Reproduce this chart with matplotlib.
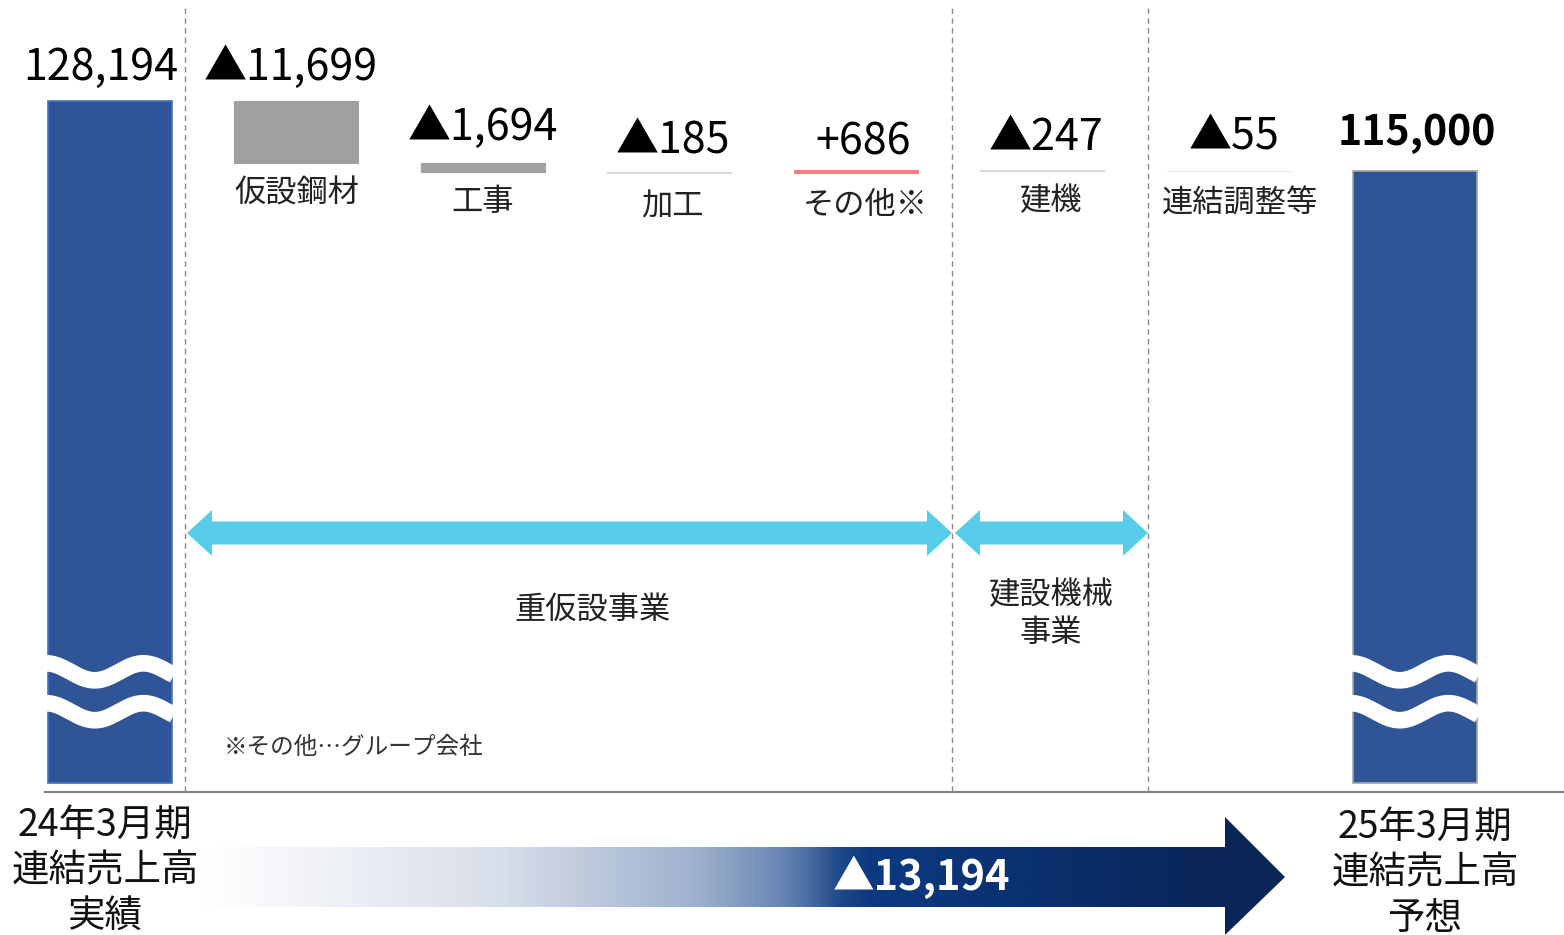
import numpy as np
import matplotlib
matplotlib.use("Agg")
import matplotlib.pyplot as plt
from matplotlib.patches import Polygon
from matplotlib.colors import LinearSegmentedColormap

plt.rcParams['font.family'] = ['Noto Sans CJK JP', 'DejaVu Sans']

# data (百万円)
categories = ['24年3月期\n連結売上高\n実績', '仮設鋼材', '工事', '加工', 'その他※', '建機', '連結調整等',
              '25年3月期\n連結売上高\n予想']
changes = [128194, -11699, -1694, -185, 686, -247, -55]
total_next = 115000
value_labels = ['128,194', '▲11,699', '▲1,694', '▲185', '+686', '▲247', '▲55', '115,000']
step_colors = ['#A0A0A0', '#A0A0A0', '#D9D9D9', '#FF7C80', '#D9D9D9', '#E6E6E6']
total_change = '▲13,194'
segments = ['重仮設事業', '建設機械\n事業']
footnote = '※その他…グループ会社'

# label nudges in pixels (layout only)
val_dx = [-9, -6, 0, 4, 7, 4, 5, 2]
val_dy = [33, 33, 35, 31, 27, 32, 33, 38]
cat_dx = [0, 0, 3, 10, 9, 11]
cat_dy = [30, 30, 33, 32, 30, 32]

W, H = 1564, 935
fig = plt.figure(figsize=(W / 100, H / 100), dpi=100)
PT = 0.72  # points per pixel at 100 dpi

# main axes: waterfall
ax = fig.add_axes([0, 0, 1, 1])
px_unit = 128194 / 682.0          # value per pixel
x_step = 186.43
ax.set_xlim(-110 / x_step, (W - 110) / x_step)
ax.set_ylim(-(H - 783) * px_unit, 783 * px_unit)
ax.axis('off')

bw = 0.665
blue = '#2F5597'
# start / end bars
ax.bar(0, changes[0], bw, bottom=0, color=blue, edgecolor='#4472C4', linewidth=1.2, zorder=2)
ax.bar(7, total_next, bw, bottom=0, color=blue, edgecolor='#A6A6A6', linewidth=1.2, zorder=2)

# steps
level = changes[0]
tops, bottoms = [changes[0]], [0]
for i, (d, c) in enumerate(zip(changes[1:], step_colors), start=1):
    lo = min(level, level + d)
    ax.bar(i, abs(d), bw, bottom=lo, color=c, edgecolor=c, linewidth=0.8, zorder=2)
    tops.append(max(level, level + d))
    bottoms.append(lo)
    level += d
tops.append(total_next)

# value labels
for i, lab in enumerate(value_labels):
    bold = (i == 7)
    ax.annotate(lab, (i, tops[i]), xytext=(val_dx[i] * PT, val_dy[i] * PT), textcoords='offset points',
                ha='center', va='center', fontsize=31 if not bold else 29.5,
                fontweight='bold' if bold else 'normal', color='black')

# step category labels
for i in range(1, 7):
    ax.annotate(categories[i], (i, bottoms[i]), xytext=(cat_dx[i - 1] * PT, -cat_dy[i - 1] * PT),
                textcoords='offset points', ha='center', va='center', fontsize=22.5, color='#222222')

# waves on start / end bars
xs = np.linspace(-0.5, 0.5, 200)
for i in (0, 7):
    for yc in (20900, 13400):
        yy = yc + 1600 * np.cos(2 * np.pi * (xs + 0.5) * 126 / 96)
        ax.plot(i + xs * bw * 1.03, yy, color='white', lw=12, solid_capstyle='butt', zorder=3)

# overlay in pixel coordinates
ov = fig.add_axes([0, 0, 1, 1], facecolor='none')
ov.set_xlim(0, W)
ov.set_ylim(H, 0)
ov.axis('off')

for xv in (185, 952, 1148):
    ov.plot([xv, xv], [8, 792], color='#8C8C8C', lw=1, dashes=(4, 3))
ov.plot([45, W], [792, 792], color='#808080', lw=1.5)

cyan = '#57CDEB'


def double_arrow(x0, x1, y):
    hl, hw, sw = 25, 23, 11.5
    pts = [(x0, y), (x0 + hl, y - hw), (x0 + hl, y - sw), (x1 - hl, y - sw), (x1 - hl, y - hw),
           (x1, y), (x1 - hl, y + hw), (x1 - hl, y + sw), (x0 + hl, y + sw), (x0 + hl, y + hw)]
    ov.add_patch(Polygon(pts, closed=True, color=cyan, lw=0))


double_arrow(187, 952, 533)
double_arrow(955, 1148, 533)
ov.text(592, 610, segments[0], ha='center', va='center', fontsize=22.5, color='#222222')
ov.text(1051, 614, segments[1], ha='center', va='center', fontsize=22.5, color='#222222',
        linespacing=1.2)
ov.text(224, 748, footnote, ha='left', va='center', fontsize=17, color='#333333')

# bottom labels
ov.text(105, 871, categories[0], ha='center', va='center', fontsize=27, linespacing=1.2,
        color='#111111')
ov.text(1425, 873, categories[7], ha='center', va='center', fontsize=27, linespacing=1.2,
        color='#111111')

# gradient arrow
arrow_pts = [(200, 847), (1225, 847), (1225, 817), (1285, 877), (1225, 935), (1225, 907), (200, 907)]
poly = Polygon(arrow_pts, closed=True, facecolor='none', edgecolor='none')
ov.add_patch(poly)
x_a, x_b = 200, 1285
stops = [(200, '#FFFFFF'), (500, '#D8DEEA'), (700, '#9DB0CC'), (780, '#6A88B3'),
         (810, '#4A6CA3'), (840, '#1E4888'), (870, '#0C3A80'), (1000, '#0A3272'),
         (1225, '#0A2557'), (1285, '#0B2659')]
cmap = LinearSegmentedColormap.from_list('g', [((p - x_a) / (x_b - x_a), c) for p, c in stops])
grad = np.linspace(0, 1, 512).reshape(1, -1)
im = ov.imshow(grad, cmap=cmap, extent=[x_a, x_b, 935, 817], aspect='auto', zorder=1)
im.set_clip_path(poly)
ov.set_xlim(0, W)
ov.set_ylim(H, 0)
ov.text(922, 877, total_change, ha='center', va='center', fontsize=30, fontweight='bold',
        color='white', zorder=2)

fig.savefig('out.png', dpi=100)
